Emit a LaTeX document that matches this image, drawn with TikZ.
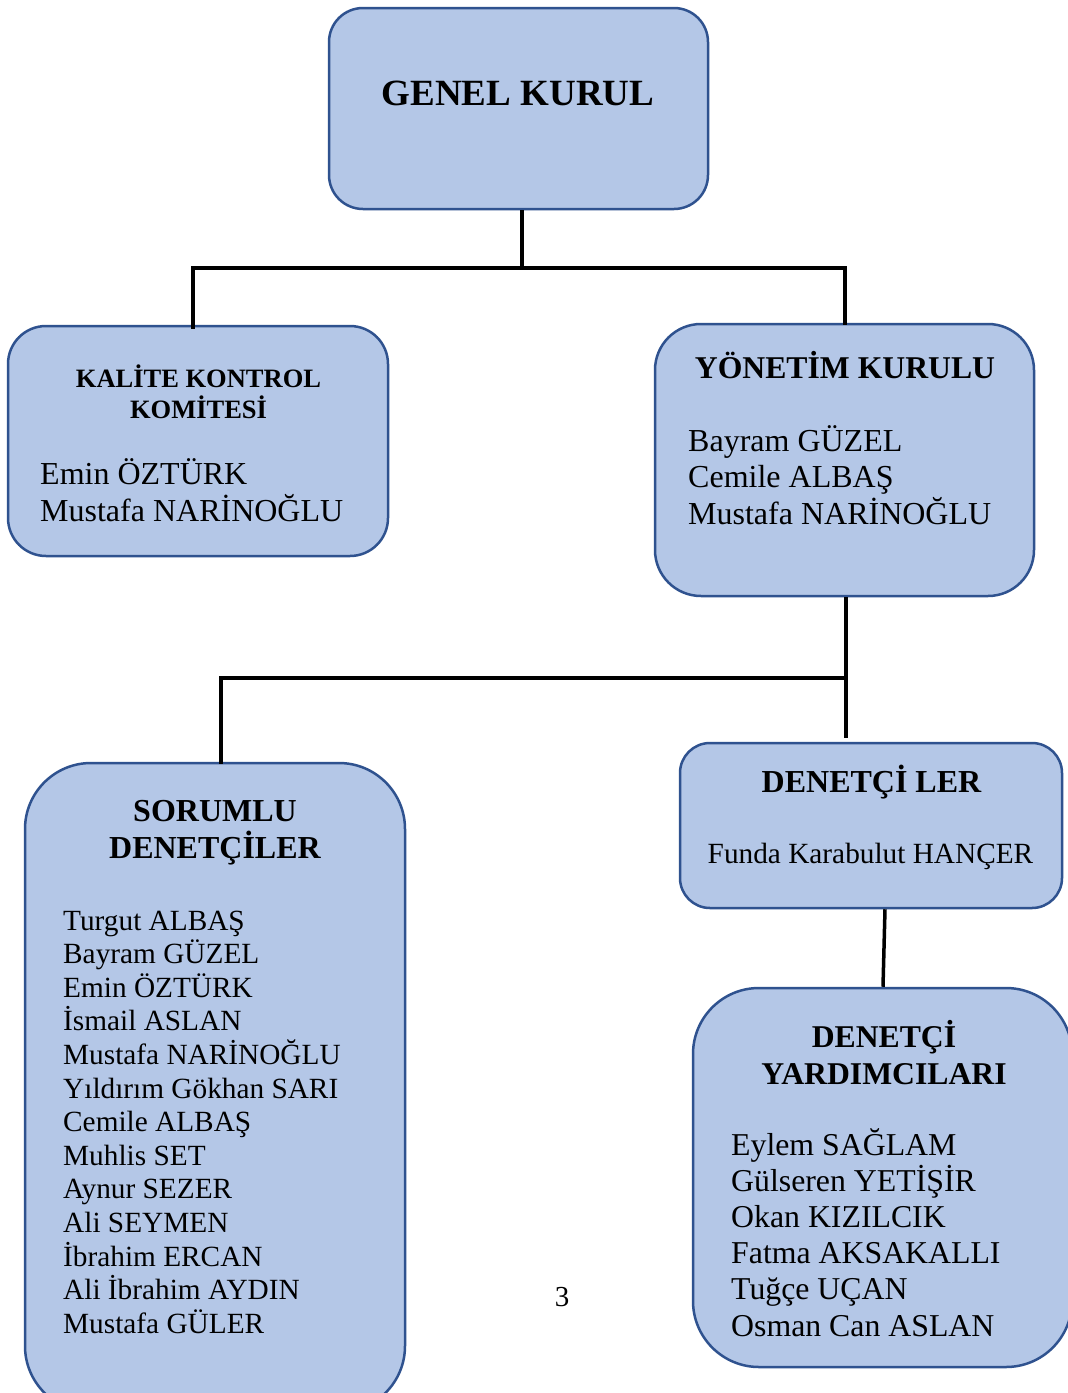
\documentclass[tikz,border=0pt]{standalone}
\usepackage{fontspec}
\setmainfont{Liberation Serif}
\definecolor{boxfill}{HTML}{B4C7E7}
\definecolor{boxline}{HTML}{2F528F}
\begin{document}
\begin{tikzpicture}[x=1pt,y=-1pt,
  box/.style={draw=boxline, line width=2.5pt, fill=boxfill, rectangle, inner sep=0pt},
  conn/.style={line width=3.5pt, draw=black},
  hd/.style={font=\bfseries\fontsize{#1}{#1}\selectfont, inner sep=0pt, anchor=base},
  hd/.default=32,
  bodyl/.style={font=\fontsize{#1}{#1}\selectfont, inner sep=0pt, anchor=base west},
  bodyl/.default=32,
  bodyc/.style={font=\fontsize{#1}{#1}\selectfont, inner sep=0pt, anchor=base},
  bodyc/.default=32]
\useasboundingbox[fill=white] (0,0) rectangle (1068,1393);

% boxes
\node[box, minimum width=379pt, minimum height=201pt, rounded corners=34pt] (genel) at (518.5,108.5) {};
\node[box, minimum width=380pt, minimum height=230pt, rounded corners=38pt] (kalite) at (198,441) {};
\node[box, minimum width=379pt, minimum height=272pt, rounded corners=46pt] (yonetim) at (844.5,460) {};
\node[box, minimum width=380pt, minimum height=649pt, rounded corners=66pt] (sorumlu) at (215,1087.5) {};
\node[box, minimum width=382pt, minimum height=165pt, rounded corners=30pt] (denetciler) at (871,825.5) {};
\node[box, minimum width=379pt, minimum height=379pt, rounded corners=66pt] (yardimci) at (882.5,1177.5) {};

% connectors
\coordinate (j1) at (522,268);
\coordinate (hl) at (193,268);
\coordinate (hr) at (845,268);
\coordinate (j2) at (846,678);
\coordinate (sl) at (221,678);
\coordinate (d1) at (846,738);
\draw[conn] (j1 |- genel.south) -- (j1);
\draw[conn] ([yshift=-4pt]hl |- kalite.north) -- (hl) -- (hr) -- ([yshift=-2pt]hr |- yonetim.north);
\draw[conn] (j2 |- yonetim.south) -- (d1);
\draw[conn] (j2) -- (sl) -- ([yshift=-2pt]sl |- sorumlu.north);
\draw[conn] ([xshift=14pt]denetciler.south) -- ([xshift=0.5pt]yardimci.north);

% GENEL KURUL
\node[hd=37] (tgenel) at (518,105) {GENEL KURUL};

% KALITE
\node[hd=26.5] (tk1) at (198.5,387) {KALİTE KONTROL};
\node[hd=26.5] (tk2) at (198.5,418) {KOMİTESİ};
\node[bodyl=32] (bk1) at (40,484) {Emin ÖZTÜRK};
\node[bodyl=32] (bk2) at (40,521) {Mustafa NARİNOĞLU};

% YONETIM
\node[hd=31.7] (ty1) at (845,378) {YÖNETİM KURULU};
\node[bodyl=32] (by1) at (688,451) {Bayram GÜZEL};
\node[bodyl=32] (by2) at (688,487.5) {Cemile ALBAŞ};
\node[bodyl=32] (by3) at (688,524) {Mustafa NARİNOĞLU};

% SORUMLU
\node[hd=32] (ts1) at (215,821) {SORUMLU};
\node[hd=32] (ts2) at (215,858) {DENETÇİLER};
\foreach \t [count=\i] in {Turgut ALBAŞ, Bayram GÜZEL, Emin ÖZTÜRK, İsmail ASLAN, Mustafa NARİNOĞLU, Yıldırım Gökhan SARI, Cemile ALBAŞ, Muhlis SET, Aynur SEZER, Ali SEYMEN, İbrahim ERCAN, Ali İbrahim AYDIN, Mustafa GÜLER}
  \node[bodyl=29.3] (bs\i) at (63,{930+(\i-1)*33.6}) {\t};

% DENETCI LER
\node[hd=32] (td1) at (871.5,792) {DENETÇİ LER};
\node[bodyc=29.3] (bd1) at (870.5,863) {Funda Karabulut HANÇER};

% YARDIMCILARI
\node[hd=31.7] (tr1) at (884,1047) {DENETÇİ};
\node[hd=31.7] (tr2) at (884,1084) {YARDIMCILARI};
\foreach \t [count=\i] in {Eylem SAĞLAM, Gülseren YETİŞİR, Okan KIZILCIK, Fatma AKSAKALLI, Tuğçe UÇAN, Osman Can ASLAN}
  \node[bodyl=31.8] (br\i) at (731,{1155+(\i-1)*36.2}) {\t};

% page number
\node[bodyc=29] (page) at (562,1306) {3};
\end{tikzpicture}
\end{document}
